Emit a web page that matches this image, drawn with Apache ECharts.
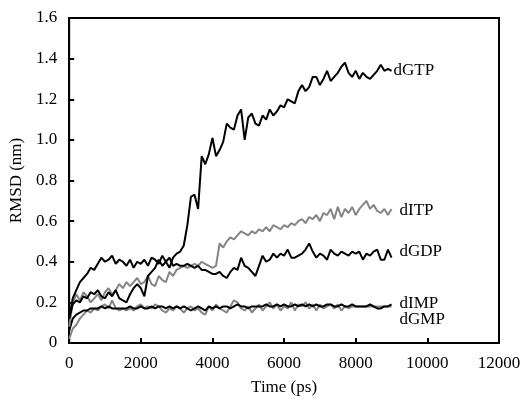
<!DOCTYPE html>
<html>
<head>
<meta charset="utf-8">
<script src="https://cdn.jsdelivr.net/npm/echarts@6/dist/echarts.min.js"></script>
<style>html,body{margin:0;padding:0;background:#fff}#c{width:524px;height:401px}</style>
</head>
<body>
<div id="c"></div>
<script>
// time samples (ps), every 100 ps from 0 to 9000
const times = Array.from({length: 91}, (_, i) => i * 100);

const dGTP = [0.12,0.19,0.21,0.20,0.23,0.22,0.25,0.24,0.26,0.23,
  0.22,0.25,0.23,0.26,0.22,0.21,0.20,0.24,0.27,0.29,
  0.27,0.23,0.33,0.35,0.37,0.41,0.38,0.40,0.37,0.42,
  0.44,0.45,0.48,0.58,0.72,0.73,0.66,0.92,0.88,0.93,
  1.01,0.92,0.95,0.99,1.08,1.06,1.05,1.12,1.15,1.00,
  1.11,1.13,1.08,1.07,1.12,1.10,1.15,1.12,1.14,1.17,
  1.16,1.20,1.19,1.18,1.24,1.27,1.24,1.26,1.31,1.31,
  1.27,1.30,1.34,1.29,1.31,1.33,1.36,1.38,1.33,1.31,
  1.34,1.30,1.33,1.31,1.30,1.32,1.34,1.37,1.34,1.35,
  1.34];

const dITP = [0.08,0.20,0.24,0.21,0.25,0.23,0.20,0.22,0.24,0.21,
  0.25,0.27,0.24,0.26,0.29,0.27,0.30,0.28,0.30,0.32,
  0.29,0.30,0.33,0.29,0.28,0.33,0.31,0.30,0.35,0.33,
  0.36,0.37,0.38,0.37,0.38,0.39,0.38,0.40,0.39,0.38,
  0.37,0.38,0.49,0.47,0.50,0.52,0.51,0.53,0.55,0.54,
  0.53,0.55,0.54,0.56,0.55,0.57,0.55,0.58,0.57,0.56,
  0.58,0.57,0.59,0.58,0.60,0.61,0.59,0.62,0.61,0.63,
  0.60,0.64,0.63,0.66,0.61,0.67,0.62,0.66,0.64,0.67,
  0.63,0.66,0.68,0.70,0.66,0.68,0.65,0.64,0.66,0.63,
  0.66];

const dGDP = [0.12,0.22,0.26,0.30,0.32,0.34,0.37,0.36,0.39,0.42,
  0.40,0.41,0.43,0.39,0.41,0.40,0.38,0.41,0.37,0.40,
  0.39,0.41,0.38,0.42,0.41,0.39,0.43,0.40,0.42,0.38,
  0.39,0.38,0.38,0.39,0.38,0.37,0.38,0.36,0.36,0.35,
  0.34,0.34,0.35,0.33,0.32,0.35,0.37,0.36,0.42,0.38,
  0.37,0.35,0.33,0.38,0.43,0.40,0.41,0.44,0.42,0.44,
  0.43,0.46,0.42,0.42,0.43,0.44,0.46,0.49,0.45,0.42,
  0.44,0.43,0.41,0.46,0.44,0.43,0.45,0.44,0.43,0.45,
  0.44,0.45,0.41,0.44,0.43,0.45,0.46,0.41,0.41,0.46,
  0.42];

const dIMP = [0.02,0.07,0.09,0.12,0.14,0.16,0.15,0.17,0.16,0.18,
  0.19,0.17,0.21,0.17,0.16,0.17,0.16,0.17,0.16,0.18,
  0.19,0.17,0.18,0.17,0.19,0.18,0.16,0.15,0.17,0.16,
  0.18,0.17,0.15,0.17,0.18,0.16,0.17,0.15,0.14,0.18,
  0.16,0.19,0.17,0.16,0.15,0.18,0.21,0.20,0.17,0.16,
  0.18,0.15,0.17,0.19,0.16,0.18,0.20,0.17,0.19,0.16,
  0.18,0.17,0.20,0.16,0.19,0.18,0.20,0.17,0.19,0.16,
  0.19,0.17,0.18,0.19,0.17,0.19,0.16,0.18,0.17,0.18,
  0.18,0.18,0.18,0.18,0.18,0.18,0.18,0.18,0.18,0.18,
  0.18];

const dGMP = [0.06,0.12,0.14,0.15,0.16,0.16,0.17,0.17,0.17,0.18,
  0.17,0.18,0.17,0.17,0.17,0.17,0.17,0.18,0.17,0.17,
  0.18,0.17,0.17,0.18,0.17,0.18,0.18,0.17,0.18,0.17,
  0.18,0.17,0.18,0.17,0.16,0.17,0.18,0.17,0.16,0.18,
  0.17,0.18,0.17,0.18,0.18,0.17,0.18,0.19,0.18,0.18,
  0.17,0.18,0.18,0.18,0.18,0.19,0.18,0.18,0.19,0.18,
  0.19,0.18,0.18,0.19,0.18,0.19,0.18,0.19,0.18,0.19,
  0.18,0.18,0.19,0.19,0.18,0.18,0.19,0.18,0.18,0.19,
  0.18,0.18,0.18,0.18,0.19,0.18,0.17,0.17,0.18,0.18,
  0.19];

const FONT = 'Liberation Serif';
const BLACK = '#000000';
const GRAY = '#858585';
const FS = 17;

function pairs(vals) { return vals.map((v, i) => [times[i], v]); }

function mk(name, vals, color, z, dist, dy) {
  return {
    name: name, type: 'line', data: pairs(vals), showSymbol: false, symbol: 'none',
    z: z, animation: false,
    lineStyle: { color: color, width: 2 },
    endLabel: { show: true, formatter: name, color: '#000', fontFamily: FONT, fontSize: FS,
      distance: dist, offset: [0, dy] }
  };
}

const chart = echarts.init(document.getElementById('c'), null, { renderer: 'canvas' });
chart.setOption({
  animation: false,
  grid: { left: 67, right: 25, top: 18, bottom: 55, show: true, borderColor: '#000', borderWidth: 2, backgroundColor: 'transparent' },
  xAxis: {
    type: 'value', min: 0, max: 12000, interval: 2000,
    name: 'Time (ps)', nameLocation: 'middle', nameGap: 36,
    nameTextStyle: { fontFamily: FONT, fontSize: FS, color: '#000' },
    axisLine: { show: true, lineStyle: { color: '#000', width: 2 } },
    axisTick: { show: true, inside: true, length: 5, lineStyle: { color: '#000', width: 2 } },
    axisLabel: { fontFamily: FONT, fontSize: FS, color: '#000', margin: 12,
      formatter: v => String(v) },
    splitLine: { show: false }
  },
  yAxis: {
    type: 'value', min: 0, max: 1.6, interval: 0.2,
    name: 'RMSD (nm)', nameLocation: 'middle', nameGap: 42,
    nameTextStyle: { fontFamily: FONT, fontSize: FS, color: '#000' },
    axisLine: { show: true, lineStyle: { color: '#000', width: 2 } },
    axisTick: { show: true, inside: true, length: 5, lineStyle: { color: '#000', width: 2 } },
    axisLabel: { fontFamily: FONT, fontSize: FS, color: '#000', margin: 12,
      formatter: v => (v === 0 ? '0' : v.toFixed(1)) },
    splitLine: { show: false }
  },
  series: [
    mk('dIMP', dIMP, GRAY, 2, 8, -3),
    mk('dGMP', dGMP, BLACK, 3, 8, 15),
    mk('dITP', dITP, GRAY, 4, 8, 2),
    mk('dGDP', dGDP, BLACK, 5, 8, -6),
    mk('dGTP', dGTP, BLACK, 6, 2, 0)
  ]
});
</script>
</body>
</html>
